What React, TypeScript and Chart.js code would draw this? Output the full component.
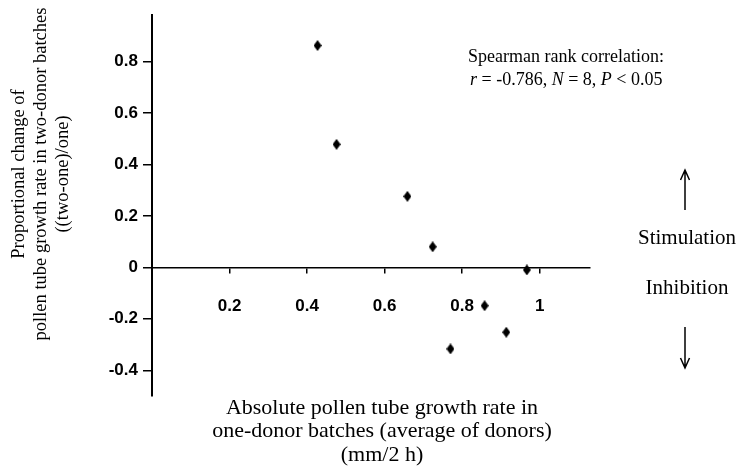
import React, { useEffect, useRef } from "react";
import { Chart, registerables } from "chart.js";

Chart.register(...registerables);

// ---- data ----
const xValues = [0.427, 0.476, 0.659, 0.724, 0.77, 0.858, 0.914, 0.967];
const yValues = [0.862, 0.478, 0.276, 0.08, -0.317, -0.149, -0.252, -0.01];

const xTickValues = [0.2, 0.4, 0.6, 0.8, 1];
const xTickLabels = ["0.2", "0.4", "0.6", "0.8", "1"];
const yTickValues = [-0.4, -0.2, 0, 0.2, 0.4, 0.6, 0.8];
const yTickLabels = ["-0.4", "-0.2", "0", "0.2", "0.4", "0.6", "0.8"];

const xTitleLines = [
  "Absolute pollen tube growth rate in",
  "one-donor batches (average of donors)",
  "(mm/2 h)",
];
const yTitleLines = [
  "Proportional change of",
  "pollen tube growth rate in two-donor batches",
  "((two-one)/one)",
];
const statsLine1 = "Spearman rank correlation:";
const statsLine2 = [
  { text: "r", italic: true },
  { text: " = -0.786, ", italic: false },
  { text: "N", italic: true },
  { text: " = 8, ", italic: false },
  { text: "P", italic: true },
  { text: " < 0.05", italic: false },
];
const upLabel = "Stimulation";
const downLabel = "Inhibition";

const SERIF = "'Liberation Serif', 'Times New Roman', serif";
const SANS = "'Liberation Sans', Arial, sans-serif";

function makeDiamond(): HTMLCanvasElement {
  const c = document.createElement("canvas");
  const w = 8;
  const h = 11;
  c.width = w;
  c.height = h;
  const g = c.getContext("2d")!;
  g.fillStyle = "#000";
  g.beginPath();
  g.moveTo(w / 2, 0);
  g.lineTo(w, h / 2);
  g.lineTo(w / 2, h);
  g.lineTo(0, h / 2);
  g.closePath();
  g.fill();
  return c;
}

const annotationsPlugin = {
  id: "annotations",
  afterDraw(chart: any) {
    const ctx = chart.ctx as CanvasRenderingContext2D;
    ctx.save();
    ctx.fillStyle = "#000";
    ctx.strokeStyle = "#000";

    // y title (rotated)
    ctx.font = `18.5px ${SERIF}`;
    ctx.textAlign = "center";
    ctx.textBaseline = "middle";
    const yCenters = [19, 41, 63];
    yTitleLines.forEach((line, i) => {
      ctx.save();
      ctx.translate(yCenters[i], 174);
      ctx.rotate(-Math.PI / 2);
      ctx.fillText(line, 0, 0);
      ctx.restore();
    });

    // x title
    ctx.font = `22px ${SERIF}`;
    xTitleLines.forEach((line, i) => {
      ctx.fillText(line, 382, 408 + i * 23.5);
    });

    // stats text
    ctx.textAlign = "left";
    ctx.font = `18px ${SERIF}`;
    ctx.fillText(statsLine1, 468, 57);
    let x = 470;
    statsLine2.forEach((seg) => {
      ctx.font = `${seg.italic ? "italic " : ""}18px ${SERIF}`;
      ctx.fillText(seg.text, x, 80);
      x += ctx.measureText(seg.text).width;
    });

    // stimulation / inhibition
    ctx.textAlign = "center";
    ctx.font = `21px ${SERIF}`;
    ctx.fillText(upLabel, 687, 238);
    ctx.fillText(downLabel, 687, 288);

    // arrows
    ctx.lineWidth = 1.5;
    ctx.beginPath();
    ctx.moveTo(685, 210);
    ctx.lineTo(685, 171);
    ctx.moveTo(680.5, 180);
    ctx.lineTo(685, 170);
    ctx.lineTo(689.5, 180);
    ctx.moveTo(685, 327);
    ctx.lineTo(685, 367);
    ctx.moveTo(680.5, 358);
    ctx.lineTo(685, 368);
    ctx.lineTo(689.5, 358);
    ctx.stroke();

    ctx.restore();
  },
};

export default function App() {
  const ref = useRef<HTMLCanvasElement | null>(null);

  useEffect(() => {
    document.body.style.margin = "0";
    const canvas = ref.current!;
    const diamond = makeDiamond();
    const chart = new Chart(canvas, {
      type: "scatter",
      data: {
        datasets: [
          {
            data: xValues.map((x, i) => ({ x, y: yValues[i] })),
            pointStyle: diamond as any,
            pointRadius: 5,
            backgroundColor: "#000",
            borderColor: "#000",
          },
        ],
      },
      options: {
        animation: false,
        responsive: false,
        devicePixelRatio: 1,
        layout: { padding: { top: 14.5, right: 150, bottom: 73, left: 0 } },
        plugins: { legend: { display: false }, tooltip: { enabled: false } },
        scales: {
          x: {
            type: "linear",
            min: 0,
            max: 1.13,
            position: { y: 0 } as any,
            afterBuildTicks: (s: any) => {
              s.ticks = xTickValues.map((v) => ({ value: v }));
            },
            ticks: {
              callback: (_v: any, i: number) => xTickLabels[i],
              font: { family: SANS, size: 17, weight: "bold" },
              color: "#000",
              padding: 24,
              maxRotation: 0,
              autoSkip: false,
            },
            grid: {
              display: true,
              drawOnChartArea: false,
              drawTicks: true,
              tickLength: 5,
              color: "#000",
              lineWidth: 1.5,
            },
            border: { display: true, color: "#000", width: 1.5 },
          },
          y: {
            type: "linear",
            min: -0.5,
            max: 0.98,
            position: "left",
            afterBuildTicks: (s: any) => {
              s.ticks = yTickValues.map((v) => ({ value: v }));
            },
            afterFit: (s: any) => {
              s.width = 152;
            },
            ticks: {
              callback: (_v: any, i: number) => yTickLabels[i],
              font: { family: SANS, size: 17, weight: "bold" },
              color: "#000",
              padding: 5,
              autoSkip: false,
            },
            grid: {
              display: true,
              drawOnChartArea: false,
              drawTicks: true,
              tickLength: 9,
              color: "#000",
              lineWidth: 1.5,
            },
            border: { display: true, color: "#000", width: 2 },
          },
        },
      },
      plugins: [annotationsPlugin],
    });
    return () => chart.destroy();
  }, []);

  return (
    <div style={{ width: 740, height: 469, background: "#fff" }}>
      <canvas ref={ref} width={740} height={469} style={{ display: "block" }} />
    </div>
  );
}
